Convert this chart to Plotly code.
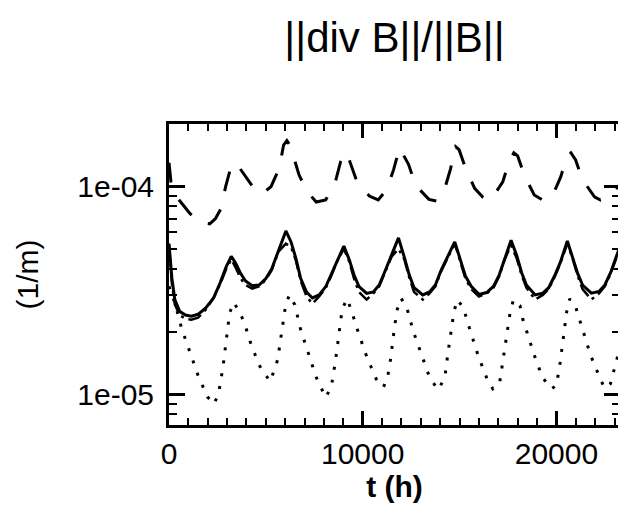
import plotly.graph_objects as go

# ---- data ----
t_dashed = [0, 100, 393, 1077, 1600, 2103, 2400, 2667, 2923, 3180, 3450, 3726, 4325, 4800,
            5265, 5692, 5914, 6085, 6256, 6718, 7145, 7600, 8085, 8564, 8855, 9111, 9316,
            9709, 10342, 10800, 11248, 11590, 11900, 12359, 12735, 13419, 13800, 14239,
            14530, 14800, 14974, 15316, 15778, 16205, 16500, 16632, 17231, 17538, 17800,
            18000, 18342, 18855, 19282, 19760, 20222, 20530, 20750, 20991, 21333, 21965,
            22274, 22701, 23000, 23300]
y_dashed = [1.3e-4, 1.05e-4, 8.9e-5, 7.4e-5, 6.7e-5, 6.6e-5, 7.0e-5, 7.75e-5, 9.96e-5, 1.22e-4,
            1.3e-4, 1.2e-4, 9.96e-5, 9.2e-5, 9.96e-5, 1.22e-4, 1.58e-4, 1.66e-4, 1.57e-4,
            1.13e-4, 9.42e-5, 8.4e-5, 8.59e-5, 1.03e-4, 1.31e-4, 1.46e-4, 1.33e-4, 1.05e-4,
            8.98e-5, 8.6e-5, 9.68e-5, 1.2e-4, 1.53e-4, 1.28e-4, 1.01e-4, 8.65e-5, 8.5e-5,
            9.78e-5, 1.21e-4, 1.55e-4, 1.5e-4, 1.22e-4, 9.78e-5, 8.85e-5, 8.6e-5, 8.65e-5,
            1.05e-4, 1.3e-4, 1.45e-4, 1.4e-4, 1.13e-4, 9.08e-5, 8.59e-5, 8.85e-5, 1.11e-4,
            1.38e-4, 1.45e-4, 1.34e-4, 1.08e-4, 8.9e-5, 8.59e-5, 8.98e-5, 9.6e-5, 1.02e-4]

t_solid = [0, 150, 300, 550, 850, 1150, 1500, 1900, 2300, 2650, 2950, 3214, 3450, 3700, 3950,
           4300, 4650, 5000, 5300, 5650, 6034, 6300, 6550, 6800, 7100, 7400, 7750, 8100, 8400,
           8700, 9026, 9300, 9550, 9800, 10200, 10550, 10850, 11150, 11500, 11846, 12150,
           12400, 12650, 13100, 13450, 13750, 14050, 14400, 14752, 15050, 15300, 15600,
           16000, 16400, 16750, 17050, 17350, 17658, 17950, 18200, 18450, 18900, 19300,
           19600, 19900, 20200, 20564, 20850, 21100, 21350, 21800, 22200, 22500, 22800, 23300]
y_solid = [5.3e-5, 3.6e-5, 2.85e-5, 2.5e-5, 2.4e-5, 2.37e-5, 2.42e-5, 2.6e-5, 2.9e-5, 3.45e-5,
           4.1e-5, 4.6e-5, 4.25e-5, 3.8e-5, 3.5e-5, 3.32e-5, 3.35e-5, 3.6e-5, 4.0e-5, 4.95e-5,
           6.1e-5, 5.4e-5, 4.5e-5, 3.6e-5, 3.1e-5, 2.9e-5, 3.0e-5, 3.3e-5, 3.8e-5, 4.45e-5,
           5.15e-5, 4.45e-5, 3.75e-5, 3.3e-5, 3.05e-5, 3.1e-5, 3.35e-5, 3.9e-5, 4.7e-5,
           5.65e-5, 4.55e-5, 3.75e-5, 3.25e-5, 3.0e-5, 3.1e-5, 3.35e-5, 3.95e-5, 4.6e-5,
           5.4e-5, 4.4e-5, 3.7e-5, 3.3e-5, 3.02e-5, 3.08e-5, 3.3e-5, 3.75e-5, 4.55e-5, 5.5e-5,
           4.65e-5, 3.85e-5, 3.35e-5, 3.0e-5, 3.06e-5, 3.25e-5, 3.7e-5, 4.3e-5, 5.45e-5,
           4.55e-5, 3.8e-5, 3.35e-5, 3.06e-5, 3.12e-5, 3.35e-5, 3.85e-5, 5.2e-5]

y_dashdot = [5.2e-5, 3.4e-5, 2.7e-5, 2.4e-5, 2.3e-5, 2.28e-5, 2.33e-5, 2.55e-5, 2.9e-5, 3.4e-5,
             4.0e-5, 4.45e-5, 4.05e-5, 3.6e-5, 3.35e-5, 3.22e-5, 3.3e-5, 3.55e-5, 3.95e-5,
             4.85e-5, 5.3e-5, 5.1e-5, 4.4e-5, 3.5e-5, 2.95e-5, 2.72e-5, 2.95e-5, 3.25e-5,
             3.75e-5, 4.4e-5, 5.0e-5, 4.35e-5, 3.6e-5, 3.1e-5, 2.85e-5, 3.05e-5, 3.3e-5,
             3.85e-5, 4.6e-5, 5.0e-5, 4.45e-5, 3.65e-5, 3.1e-5, 2.85e-5, 3.05e-5, 3.3e-5,
             3.9e-5, 4.55e-5, 5.3e-5, 4.3e-5, 3.6e-5, 3.2e-5, 2.95e-5, 3.05e-5, 3.25e-5,
             3.7e-5, 4.5e-5, 5.2e-5, 4.5e-5, 3.75e-5, 3.25e-5, 2.85e-5, 3.0e-5, 3.2e-5,
             3.65e-5, 4.25e-5, 5.3e-5, 4.45e-5, 3.7e-5, 3.2e-5, 2.85e-5, 3.05e-5, 3.3e-5,
             3.8e-5, 5.1e-5]

t_dotted = [0, 308, 650, 1077, 1500, 1983, 2325, 2564, 2786, 2957, 3128, 3333, 3641, 3897,
            4274, 4752, 5231, 5607, 5800, 6000, 6205, 6496, 6803, 7197, 7607, 8085, 8376,
            8598, 8769, 8940, 9197, 9419, 9795, 10222, 10701, 11077, 11299, 11419, 11600,
            11760, 11983, 12274, 12615, 13043, 13470, 13900, 14239, 14410, 14615, 14701,
            14872, 15179, 15556, 15949, 16410, 16718, 17060, 17265, 17450, 17607, 17778,
            18120, 18256, 18855, 19282, 19750, 20000, 20188, 20400, 20530, 20684, 20991,
            21385, 21760, 22239, 22479, 22786, 22957, 23300]
y_dotted = [3.3e-5, 2.74e-5, 2.07e-5, 1.6e-5, 1.23e-5, 9.7e-6, 8.95e-6, 1.01e-5, 1.35e-5,
            1.82e-5, 2.45e-5, 2.76e-5, 2.49e-5, 2.19e-5, 1.69e-5, 1.32e-5, 1.15e-5, 1.46e-5,
            1.95e-5, 2.6e-5, 3.0e-5, 2.69e-5, 2.03e-5, 1.57e-5, 1.2e-5, 9.64e-6, 1.08e-5,
            1.45e-5, 1.92e-5, 2.57e-5, 2.87e-5, 2.52e-5, 1.95e-5, 1.5e-5, 1.18e-5, 1.08e-5,
            1.23e-5, 1.43e-5, 1.95e-5, 2.52e-5, 2.89e-5, 2.61e-5, 2.0e-5, 1.54e-5, 1.19e-5,
            1.05e-5, 1.2e-5, 1.6e-5, 2.15e-5, 2.46e-5, 2.84e-5, 2.63e-5, 2.01e-5, 1.54e-5,
            1.19e-5, 1.06e-5, 1.12e-5, 1.5e-5, 2.0e-5, 2.46e-5, 2.84e-5, 2.66e-5, 2.31e-5,
            1.54e-5, 1.2e-5, 1.06e-5, 1.1e-5, 1.41e-5, 2.0e-5, 2.49e-5, 2.87e-5, 2.63e-5,
            2.0e-5, 1.54e-5, 1.2e-5, 1.07e-5, 1.12e-5, 1.28e-5, 1.7e-5]

x_tickvals = [0, 10000, 20000]
x_ticktext = ["0", "10000", "20000"]
y_tickvals = [1e-5, 1e-4]
y_ticktext = ["1e-05", "1e-04"]
y_minorvals = [8e-6, 9e-6, 2e-5, 3e-5, 4e-5, 5e-5, 6e-5, 7e-5, 8e-5, 9e-5, 2e-4]

FONT = "Liberation Sans, Arial, sans-serif"

fig = go.Figure()
fig.add_trace(go.Scatter(x=t_dashed, y=y_dashed, mode="lines",
                         line=dict(color="black", width=3, dash="20px,19px")))
fig.add_trace(go.Scatter(x=t_solid, y=y_dashdot, mode="lines",
                         line=dict(color="black", width=2.5, dash="14px,5px,3px,5px")))
fig.add_trace(go.Scatter(x=t_solid, y=y_solid, mode="lines",
                         line=dict(color="black", width=3)))
fig.add_trace(go.Scatter(x=t_dotted, y=y_dotted, mode="lines",
                         line=dict(color="black", width=3, dash="3px,10px")))

fig.update_layout(
    width=624, height=515,
    margin=dict(l=169, r=1, t=124, b=90),
    paper_bgcolor="white", plot_bgcolor="white",
    showlegend=False,
    font=dict(family=FONT, size=30, color="black"),
    title=dict(text="||div B||/||B||", x=0.5, xref="paper", xanchor="center",
               y=1 - 37 / 515, yref="container", yanchor="middle",
               font=dict(size=42, family=FONT, color="black")),
)
fig.update_xaxes(
    type="linear", range=[0, 23282],
    tickmode="array", tickvals=x_tickvals, ticktext=x_ticktext,
    ticks="inside", ticklen=14, tickwidth=2.5, tickcolor="black",
    showline=True, linewidth=3, linecolor="black", mirror="ticks",
    showgrid=False, zeroline=False,
    minor=dict(dtick=1000, tick0=0, ticks="inside", ticklen=7, tickwidth=2, tickcolor="black", showgrid=False),
    tickfont=dict(size=30),
    title=dict(text="<b>t (h)</b>", font=dict(size=30), standoff=5),
)
fig.update_yaxes(
    type="log", range=[-5.149, -3.70],
    tickmode="array", tickvals=y_tickvals, ticktext=y_ticktext,
    ticks="inside", ticklen=16, tickwidth=2.5, tickcolor="black",
    showline=True, linewidth=3, linecolor="black", mirror="ticks",
    showgrid=False, zeroline=False,
    minor=dict(tickmode="array", tickvals=y_minorvals, ticks="inside", ticklen=8, tickwidth=2,
               tickcolor="black", showgrid=False),
    tickfont=dict(size=30),
    ticklabelstandoff=6,
    title=dict(text="(1/m)", font=dict(size=30), standoff=30),
)

fig.write_html("out.html", post_script=
    "document.documentElement.style.overflow='hidden';document.body.style.overflow='hidden';document.body.style.margin='0';")
